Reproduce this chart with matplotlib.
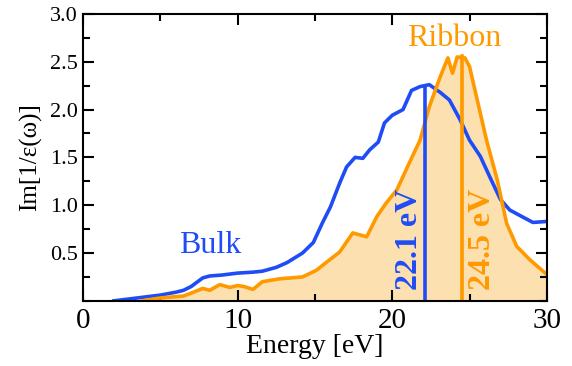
import numpy as np
import matplotlib.pyplot as plt
from matplotlib.ticker import MultipleLocator

plt.rcParams['font.family'] = ['Liberation Serif', 'DejaVu Serif']

azul = '#1f4cf5'
naranja = '#ff9900'

# Bulk
bulkX = [2.0, 3.0, 4.0, 5.0, 6.0, 6.5, 7.0, 7.5, 7.75, 8.2, 9.0, 10.0, 11.0, 11.6, 12.5,
         13.2, 13.7, 14.2, 14.9, 15.5, 16.0, 16.6, 17.05, 17.6, 18.1, 18.55, 19.1, 19.5,
         20.0, 20.7, 21.25, 21.8, 22.4, 23.1, 23.7, 24.4, 25.0, 25.7, 26.3, 27.0, 27.6,
         28.4, 29.1, 30.0]
bulkY = [0.0, 0.02, 0.04, 0.06, 0.09, 0.11, 0.15, 0.21, 0.24, 0.26, 0.27, 0.29, 0.30, 0.31, 0.35,
         0.40, 0.45, 0.50, 0.61, 0.82, 0.98, 1.23, 1.40, 1.50, 1.49, 1.58, 1.66, 1.86,
         1.94, 2.00, 2.20, 2.24, 2.26, 2.18, 2.10, 1.89, 1.68, 1.51, 1.30, 1.06, 0.95,
         0.88, 0.82, 0.83]

# Ribbon
ribX = [3.8, 5.0, 6.5, 7.3, 7.75, 8.2, 8.85, 9.5, 10.0, 10.4, 11.0, 11.6, 12.7, 14.2, 15.1,
        15.8, 16.6, 17.45, 17.9, 18.35, 19.0, 19.6, 20.3, 21.1, 21.8, 22.4, 23.1, 23.6,
        23.9, 24.2, 24.7, 25.0, 25.5, 26.1, 26.8, 27.4, 28.05, 28.9, 29.9, 30.0]
ribY = [0.0, 0.03, 0.05, 0.10, 0.13, 0.11, 0.17, 0.14, 0.16, 0.15, 0.12, 0.20, 0.23, 0.25, 0.32,
        0.41, 0.51, 0.71, 0.69, 0.67, 0.88, 1.02, 1.16, 1.44, 1.68, 2.03, 2.34, 2.54,
        2.38, 2.55, 2.54, 2.45, 2.10, 1.68, 1.26, 0.81, 0.57, 0.43, 0.29, 0.28]

picoBulk = 22.1
picoRib = 24.5

fig = plt.figure(figsize=(5.72, 3.66), dpi=100)
ax = fig.add_axes([0.145, 0.178, 0.811, 0.784])

ax.fill_between(ribX, 0, ribY, color='#fde0b0', lw=0)
ax.plot(bulkX, bulkY, color=azul, lw=2.6)
ax.plot(ribX, ribY, color=naranja, lw=2.6)

ax.plot([picoBulk, picoBulk], [0, np.interp(picoBulk, bulkX, bulkY)], color=azul, lw=2.6)
ax.plot([picoRib, picoRib], [0, 2.56], color=naranja, lw=2.6)

ax.text(8.2, 0.58, 'Bulk', color=azul, fontsize=23, ha='center', va='center')
ax.text(24.0, 2.74, 'Ribbon', color=naranja, fontsize=23, ha='center', va='center')
ax.text(21.15, 0.64, '22.1 eV', color=azul, fontsize=23, fontweight='bold',
        rotation=90, ha='center', va='center')
ax.text(25.85, 0.64, '24.5 eV', color=naranja, fontsize=23, fontweight='bold',
        rotation=90, ha='center', va='center')

ax.set_xlim(0, 30)
ax.set_ylim(0, 3.0)
ax.xaxis.set_major_locator(MultipleLocator(10))
ax.xaxis.set_minor_locator(MultipleLocator(5))
ax.yaxis.set_minor_locator(MultipleLocator(0.25))
ax.set_yticks([0.5, 1.0, 1.5, 2.0, 2.5, 3.0])
ax.set_yticklabels(['0.5', '1.0', '1.5', '2.0', '2.5', '3.0'])
ax.tick_params(which='both', direction='in', top=True, right=True, width=1.5)
ax.tick_params(which='major', length=8)
ax.tick_params(which='minor', length=5)
ax.tick_params(axis='x', labelsize=21, pad=5)
ax.tick_params(axis='y', labelsize=16)
for s in ax.spines.values():
    s.set_linewidth(1.5)

ax.set_xlabel('Energy [eV]', fontsize=20, labelpad=0)
ax.set_ylabel('Im[1/ε(ω)]', fontsize=18, labelpad=6)

fig.savefig('out.png', dpi=100)
